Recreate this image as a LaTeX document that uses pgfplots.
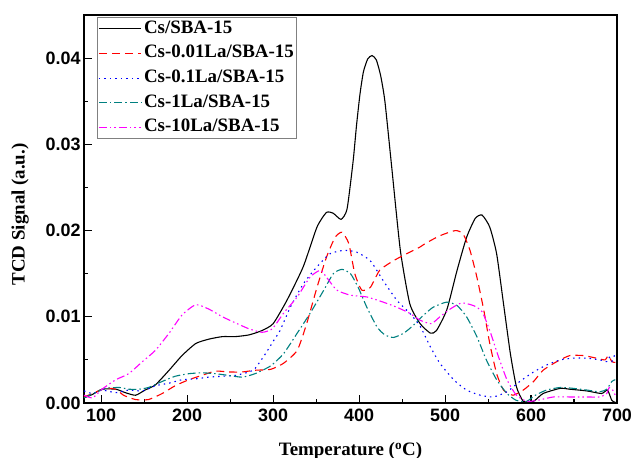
\documentclass[border=0pt]{standalone}
\usepackage{pgfplots}
\pgfplotsset{compat=1.18}
\usepackage{fontspec}
\setmainfont{Liberation Serif}
\newfontfamily\arialfont{Liberation Sans}
\definecolor{cteal}{RGB}{0,128,128}
\definecolor{cred}{RGB}{255,0,0}
\definecolor{cmag}{RGB}{255,0,255}
\definecolor{cblue}{RGB}{0,0,255}
\begin{document}
\begin{tikzpicture}
\begin{axis}[
  scale only axis,
  width=533bp, height=388bp,
  xmin=80, xmax=700, ymin=0, ymax=0.045,
  xtick={100,200,...,700},
  minor xtick={150,250,...,650},
  ytick={0,0.01,0.02,0.03,0.04},
  minor ytick={0.005,0.015,0.025,0.035},
  tick align=inside,
  xtick pos=bottom, ytick pos=left,
  major tick length=8bp, minor tick length=4.5bp,
  axis line style={line width=1.1pt},
  tick style={line width=1.1pt,black},
  scaled y ticks=false,
  yticklabel style={/pgf/number format/.cd,fixed,fixed zerofill,precision=2},
  /pgf/number format/assume math mode=true,
  ticklabel style={font=\arialfont\bfseries\fontsize{18}{18}\selectfont},
  xticklabel style={yshift=-2bp},
  xlabel={\textbf{Temperature (\textsuperscript{o}C)}},
  ylabel={\textbf{TCD Signal (a.u.)}},
  label style={font=\fontsize{19}{19}\selectfont},
  xlabel style={at={(axis description cs:0.5,-0.123)}, anchor=center},
  ylabel style={at={(axis description cs:-0.12,0.486)}, anchor=center},
  legend style={at={(rel axis cs:0,1)}, anchor=north west, xshift=13bp, yshift=-2bp,
    draw=gray, line width=0.8pt,
    font=\fontsize{19}{19}\selectfont\bfseries,
    nodes={inner sep=2bp, text height=13bp, text depth=4bp, font=\fontsize{19}{19}\selectfont\bfseries},
    row sep=3.6bp, inner sep=1bp,
    cells={anchor=west}},
  every axis plot/.append style={line width=1.1pt, smooth, tension=0.35},
]
\addplot[draw=black, solid,
  legend image code/.code={\draw[black, solid, line width=1.1pt] (0cm,0cm) -- (1.5cm,0cm);}] coordinates {
(80,0.0006)(90,0.0010)(101,0.0016)(117,0.0016)(128,0.0012)(140,0.0009)(151,0.0015)(163,0.0021)(179,0.0038)(194,0.0055)(210,0.0069)(225,0.0074)(241,0.0077)(256,0.0077)(272,0.0079)(287,0.0084)(300,0.0092)(316,0.0119)(335,0.0158)(351,0.0204)(362,0.0221)(370,0.0220)(379,0.0213)(386,0.0225)(393,0.0280)(397,0.0322)(401,0.0358)(405,0.0384)(410,0.0399)(415,0.0403)(420,0.0398)(425,0.0380)(430,0.0350)(438,0.0273)(448,0.0177)(459,0.0115)(471,0.0092)(483,0.0081)(490,0.0084)(502,0.0108)(514,0.0154)(525,0.0192)(535,0.0214)(543,0.0218)(552,0.0204)(560,0.0173)(568,0.0115)(576,0.0057)(583,0.0019)(591,0.0002)(603,0.0002)(614,0.0011)(634,0.0017)(645,0.0016)(665,0.0014)(682,0.0011)(689,0.0015)(694,0.0003)(700,0.0000)
};
\addlegendentry{Cs/SBA-15}
\addplot[draw=cred, dash pattern=on 8bp off 5bp,
  legend image code/.code={\draw[cred, line width=1.1pt, dash pattern=on 8bp off 5bp] (0cm,0cm) -- (1.5cm,0cm);}] coordinates {
(80,0.0007)(90,0.0011)(105,0.0017)(117,0.0016)(126,0.0009)(140,0.0004)(155,0.0004)(171,0.0011)(186,0.0020)(202,0.0027)(217,0.0032)(233,0.0037)(248,0.0036)(264,0.0036)(279,0.0038)(297,0.0039)(312,0.0046)(328,0.0061)(339,0.0092)(351,0.0134)(362,0.0169)(372,0.0192)(380,0.0198)(388,0.0185)(395,0.0150)(403,0.0131)(413,0.0134)(424,0.0154)(440,0.0165)(455,0.0173)(471,0.0181)(477,0.0185)(494,0.0194)(512,0.0200)(521,0.0196)(529,0.0177)(537,0.0146)(545,0.0108)(552,0.0069)(560,0.0034)(568,0.0015)(579,0.0009)(591,0.0015)(603,0.0025)(614,0.0038)(630,0.0048)(645,0.0055)(661,0.0055)(676,0.0052)(686,0.0050)(690,0.0055)(694,0.0048)(698,0.0047)
};
\addlegendentry{Cs-0.01La/SBA-15}
\addplot[draw=cblue, dash pattern=on 1.5bp off 4bp,
  legend image code/.code={\draw[cblue, line width=1.1pt, dash pattern=on 1.5bp off 4bp] (0cm,0cm) -- (1.5cm,0cm);}] coordinates {
(80,0.0014)(90,0.0011)(101,0.0015)(117,0.0012)(132,0.0015)(148,0.0014)(163,0.0020)(179,0.0023)(194,0.0027)(210,0.0028)(225,0.0030)(241,0.0031)(256,0.0032)(272,0.0036)(279,0.0040)(291,0.0057)(301,0.0073)(308,0.0084)(320,0.0111)(335,0.0138)(351,0.0158)(366,0.0173)(382,0.0177)(397,0.0175)(413,0.0165)(428,0.0142)(444,0.0119)(459,0.0104)(471,0.0089)(483,0.0065)(494,0.0046)(510,0.0027)(525,0.0015)(541,0.0009)(556,0.0007)(572,0.0013)(587,0.0025)(603,0.0036)(618,0.0044)(634,0.0050)(649,0.0052)(665,0.0052)(680,0.0050)(688,0.0048)(691,0.0053)(694,0.0048)(698,0.0058)
};
\addlegendentry{Cs-0.1La/SBA-15}
\addplot[draw=cteal, dash pattern=on 8bp off 3bp on 1.5bp off 3bp,
  legend image code/.code={\draw[cteal, line width=1.1pt, dash pattern=on 8bp off 3bp on 1.5bp off 3bp] (0cm,0cm) -- (1.5cm,0cm);}] coordinates {
(80,0.0006)(93,0.0012)(105,0.0017)(121,0.0018)(132,0.0016)(144,0.0016)(155,0.0018)(171,0.0025)(186,0.0031)(202,0.0034)(217,0.0035)(233,0.0034)(248,0.0032)(264,0.0030)(279,0.0034)(297,0.0043)(312,0.0057)(328,0.0081)(343,0.0104)(359,0.0131)(370,0.0150)(380,0.0155)(390,0.0150)(399,0.0134)(409,0.0111)(421,0.0088)(430,0.0079)(440,0.0076)(452,0.0081)(463,0.0090)(473,0.0100)(486,0.0111)(502,0.0117)(514,0.0113)(525,0.0100)(537,0.0077)(548,0.0050)(560,0.0027)(572,0.0011)(583,0.0003)(595,0.0002)(605,0.0009)(618,0.0015)(634,0.0018)(649,0.0017)(665,0.0015)(680,0.0013)(688,0.0016)(694,0.0025)(698,0.0027)
};
\addlegendentry{Cs-1La/SBA-15}
\addplot[draw=cmag, dash pattern=on 8bp off 3bp on 1.5bp off 3bp on 1.5bp off 3bp,
  legend image code/.code={\draw[cmag, line width=1.1pt, dash pattern=on 8bp off 3bp on 1.5bp off 3bp on 1.5bp off 3bp] (0cm,0cm) -- (1.5cm,0cm);}] coordinates {
(80,0.0009)(90,0.0006)(101,0.0016)(117,0.0027)(132,0.0034)(148,0.0048)(163,0.0061)(179,0.0081)(194,0.0102)(210,0.0114)(225,0.0109)(241,0.0100)(256,0.0093)(272,0.0086)(287,0.0082)(299,0.0086)(312,0.0104)(328,0.0123)(343,0.0146)(355,0.0154)(362,0.0146)(374,0.0131)(390,0.0125)(409,0.0123)(428,0.0117)(444,0.0111)(459,0.0104)(471,0.0096)(484,0.0092)(494,0.0100)(506,0.0109)(519,0.0116)(533,0.0113)(543,0.0106)(552,0.0084)(562,0.0054)(572,0.0027)(583,0.0009)(595,0.0002)(607,0.0003)(626,0.0007)(645,0.0007)(665,0.0007)(680,0.0007)(688,0.0011)(691,0.0018)(695,0.0015)(698,0.0009)
};
\addlegendentry{Cs-10La/SBA-15}
\end{axis}
\pgfresetboundingbox
\path (current axis.south west) ++(-84bp,-55bp) rectangle ++(634bp,458bp);
\end{tikzpicture}
\end{document}
